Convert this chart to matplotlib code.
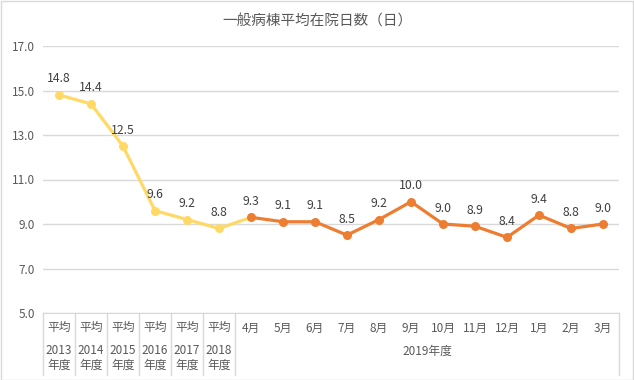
import matplotlib
matplotlib.use("Agg")
import matplotlib.pyplot as plt
import matplotlib.transforms as mtransforms
from matplotlib.patches import Rectangle

plt.rcParams["font.family"] = ["Noto Sans CJK JP", "DejaVu Sans"]

# data
top_labels = ["平均"] * 6 + ["4月", "5月", "6月", "7月", "8月", "9月",
                             "10月", "11月", "12月", "1月", "2月", "3月"]
year_labels = ["2013", "2014", "2015", "2016", "2017", "2018"]
month_group = "2019年度"
yearly_avg = [14.8, 14.4, 12.5, 9.6, 9.2, 8.8]
monthly = [9.3, 9.1, 9.1, 8.5, 9.2, 10.0, 9.0, 8.9, 8.4, 9.4, 8.8, 9.0]
yticks = [5.0, 7.0, 9.0, 11.0, 13.0, 15.0, 17.0]

YELLOW = "#FFD966"
ORANGE = "#ED7D31"
GRID = "#D9D9D9"
TEXT = "#595959"

values = yearly_avg + monthly
x = list(range(len(values)))
n_year = len(yearly_avg)

fig = plt.figure(figsize=(6.34, 3.80), dpi=100)
ax = fig.add_axes([43 / 634, 1 - 313 / 380, 576 / 634, 267 / 380])

# yellow part runs up to the first month point
ax.plot(x[:n_year + 1], values[:n_year + 1], color=YELLOW, lw=2.3,
        solid_capstyle="round", zorder=3)
ax.plot(x[n_year:], values[n_year:], color=ORANGE, lw=2.3,
        solid_capstyle="round", zorder=3)
ax.scatter(x[:n_year], values[:n_year], s=30, color=YELLOW, zorder=4)
ax.scatter(x[n_year:], values[n_year:], s=30, color=ORANGE, zorder=4)

for xi, v in zip(x, values):
    ax.annotate(f"{v:.1f}", (xi, v), xytext=(0, 11.5), textcoords="offset points",
                ha="center", va="center", fontsize=8.8, color="#404040")

ax.set_xlim(-0.5, len(values) - 0.5)
ax.set_ylim(5, 17)
ax.set_yticks(yticks)
ax.set_yticklabels([f"{t:.1f}" for t in yticks], fontsize=8.5, color=TEXT)
ax.set_xticks([])
ax.tick_params(axis="y", length=0, pad=6)
ax.grid(axis="y", color=GRID, lw=1)
ax.set_axisbelow(True)
for s in ["left", "right", "top"]:
    ax.spines[s].set_visible(False)
ax.spines["bottom"].set_color(GRID)

# category table under the axis
trans = mtransforms.blended_transform_factory(ax.transData, ax.transAxes)
for xi, lab in enumerate(top_labels):
    ax.text(xi, -0.056, lab, transform=trans, ha="center", va="center",
            fontsize=8.5, color=TEXT, clip_on=False)
for xi, lab in enumerate(year_labels):
    ax.text(xi, -0.142, lab, transform=trans, ha="center", va="center",
            fontsize=8.5, color=TEXT, clip_on=False)
    ax.text(xi, -0.197, "年度", transform=trans, ha="center", va="center",
            fontsize=8.5, color=TEXT, clip_on=False)
ax.text((n_year + len(values) - 1) / 2, -0.142, month_group, transform=trans,
        ha="center", va="center", fontsize=8.5, color=TEXT, clip_on=False)
for b in list(range(n_year + 1)) + [len(values)]:
    ax.plot([b - 0.5, b - 0.5], [0, -0.232], transform=trans, color=GRID,
            lw=1, clip_on=False)

fig.text(0.5, 1 - 22 / 380, "一般病棟平均在院日数（日）", ha="center", va="center",
         fontsize=10.5, color=TEXT)

fig.patches.append(Rectangle((0.001, 0.001), 0.997, 0.997, transform=fig.transFigure,
                             fill=False, edgecolor=GRID, lw=1))

fig.savefig("out.png", dpi=100)
